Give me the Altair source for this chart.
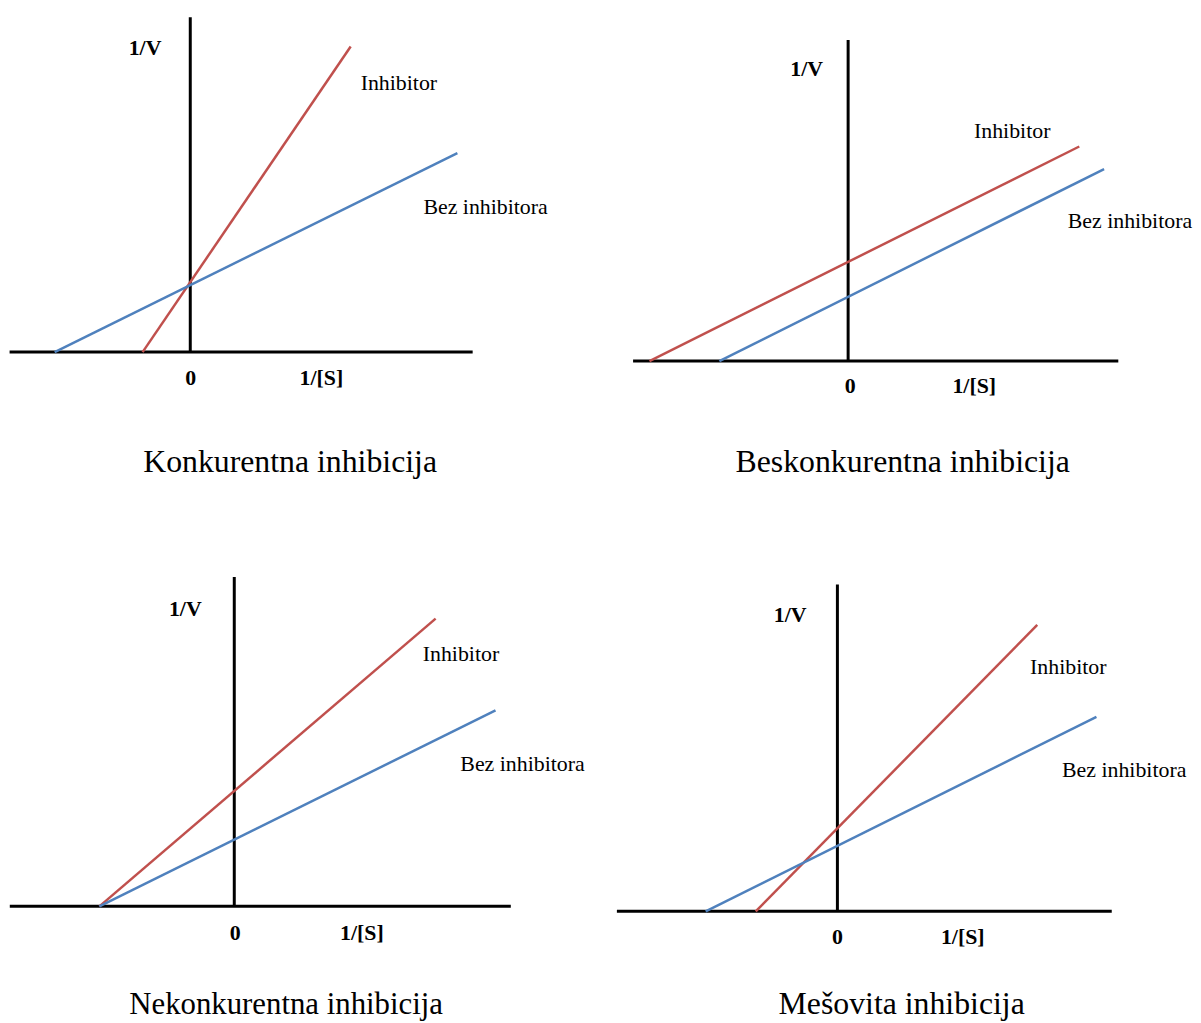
import altair as alt
import pandas as pd

# ---------------- data (arbitrary units of 1/[S] and 1/V) ----------------
TITLES = ["Konkurentna inhibicija", "Beskonkurentna inhibicija",
          "Nekonkurentna inhibicija", "Mešovita inhibicija"]
SERIES = ["Inhibitor", "Bez inhibitora"]
COLORS = ["#C0504D", "#4F81BD"]

# endpoints of each Lineweaver-Burk line: [x-intercept, top end]
INH_X = [[-0.48, 1.615], [-2.00, 2.327], [-1.358, 2.027], [-0.822, 2.012]]
INH_Y = [[0.0, 3.077], [0.0, 2.16], [0.0, 2.897], [0.0, 2.883]]
BEZ_X = [[-1.365, 2.689], [-1.296, 2.577], [-1.358, 2.63], [-1.326, 2.608]]
BEZ_Y = [[0.0, 2.003], [0.0, 1.933], [0.0, 1.973], [0.0, 1.957]]

# extent of the drawn axes
AX_XMIN = [-1.819, -2.165, -2.26, -2.22]
AX_XMAX = [2.843, 2.72, 2.784, 2.762]
AX_YMAX = [3.37, 3.233, 3.317, 3.29]

# annotation labels: 1/V, 0, 1/[S] (bold), Inhibitor, Bez inhibitora, title
YV_X = [-0.455, -0.418, -0.493, -0.476]
YV_Y = [2.987, 2.87, 2.924, 2.917]
ZERO_X = [0.005, 0.02, 0.01, 0.0]
ZERO_Y = [-0.33, -0.323, -0.337, -0.333]
XS_X = [1.32, 1.27, 1.285, 1.262]
INH_LX = [2.10, 1.652, 2.282, 2.324]
INH_LY = [2.637, 2.244, 2.474, 2.394]
BEZ_LX = [2.973, 2.837, 2.902, 2.887]
BEZ_LY = [1.393, 1.337, 1.367, 1.35]
TITLE_X = [1.005, 0.549, 0.522, 0.647]
TITLE_Y = [-1.207, -1.117, -1.08, -1.03]
TITLE_SIZE = [32, 32, 31, 32]

# ---------------- layout ----------------
PX = 100.0                      # pixels per data unit
ORIGIN = [(183.5, 343), (845.8, 352), (227.8, 901), (835, 906)]  # origin inside the chart (px)
COL_LEFT = [0, 593]
COL_W = [593, 592]
ROW_TOP = [0, 550]
ROW_H = [550, 457]
FONT = "Liberation Serif"


def panel(i):
    ox, oy = ORIGIN[i]
    col, row = i % 2, i // 2
    left, top, w, h = COL_LEFT[col], ROW_TOP[row], COL_W[col], ROW_H[row]
    xs = alt.Scale(domain=[(left - ox) / PX, (left + w - ox) / PX], nice=False, zero=False)
    ys = alt.Scale(domain=[(oy - top - h) / PX, (oy - top) / PX], nice=False, zero=False)

    axes_df = pd.DataFrame({"x1": [AX_XMIN[i], 0.0], "x2": [AX_XMAX[i], 0.0],
                            "y1": [0.0, 0.0], "y2": [0.0, AX_YMAX[i]]})
    axes = alt.Chart(axes_df).mark_rule(color="black", strokeWidth=3).encode(
        x=alt.X("x1:Q", scale=xs, axis=None), x2="x2:Q",
        y=alt.Y("y1:Q", scale=ys, axis=None), y2="y2:Q")

    lines_df = pd.DataFrame({
        "series": [SERIES[0]] * 2 + [SERIES[1]] * 2,
        "x": INH_X[i] + BEZ_X[i],
        "y": INH_Y[i] + BEZ_Y[i],
    })
    lines = alt.Chart(lines_df).mark_line(strokeWidth=2.5).encode(
        x=alt.X("x:Q", scale=xs, axis=None),
        y=alt.Y("y:Q", scale=ys, axis=None),
        color=alt.Color("series:N", scale=alt.Scale(domain=SERIES, range=COLORS), legend=None),
        detail="series:N")

    bold_df = pd.DataFrame({"t": ["1/V", "0", "1/[S]"],
                            "x": [YV_X[i], ZERO_X[i], XS_X[i]],
                            "y": [YV_Y[i], ZERO_Y[i], ZERO_Y[i]]})
    bold = alt.Chart(bold_df).mark_text(font=FONT, fontSize=22, fontWeight="bold",
                                        align="center", baseline="alphabetic", color="black").encode(
        x=alt.X("x:Q", scale=xs, axis=None), y=alt.Y("y:Q", scale=ys, axis=None), text="t:N")

    lab_df = pd.DataFrame({"t": SERIES, "x": [INH_LX[i], BEZ_LX[i]], "y": [INH_LY[i], BEZ_LY[i]]})
    labs = alt.Chart(lab_df).mark_text(font=FONT, fontSize=22, align="center",
                                       baseline="alphabetic", color="black").encode(
        x=alt.X("x:Q", scale=xs, axis=None), y=alt.Y("y:Q", scale=ys, axis=None), text="t:N")

    title_df = pd.DataFrame({"t": [TITLES[i]], "x": [TITLE_X[i]], "y": [TITLE_Y[i]]})
    title = alt.Chart(title_df).mark_text(font=FONT, fontSize=TITLE_SIZE[i], align="center",
                                          baseline="alphabetic", color="black").encode(
        x=alt.X("x:Q", scale=xs, axis=None), y=alt.Y("y:Q", scale=ys, axis=None), text="t:N")

    return alt.layer(axes, lines, bold, labs, title).properties(width=w, height=h)


chart = alt.concat(*[panel(i) for i in range(4)], columns=2, spacing=0, bounds="flush").resolve_scale(
    x="independent", y="independent").properties(padding=0).configure_view(stroke=None)

chart.save("out.html", embed_options={"renderer": "svg", "actions": False})
